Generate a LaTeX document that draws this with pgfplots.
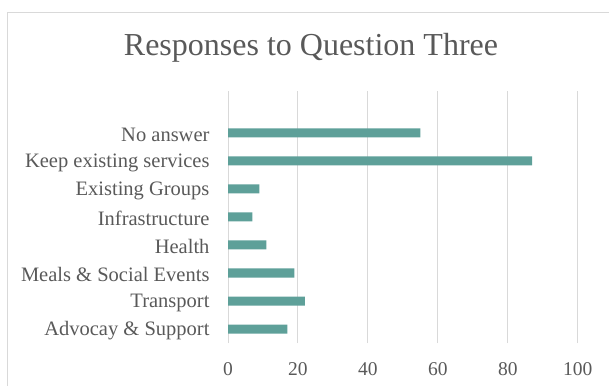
\documentclass[border=0pt]{standalone}
\usepackage{pgfplots}
\pgfplotsset{compat=1.18}
\usepackage{fontspec}
\setmainfont{Liberation Serif}
\definecolor{barc}{RGB}{94,160,153}
\definecolor{txt}{RGB}{89,89,89}
\definecolor{grd}{RGB}{217,217,217}
\begin{document}
\begin{tikzpicture}[x=1pt,y=1pt]
\path[use as bounding box] (0,0) rectangle (609,385);
\draw[grd, line width=1pt] (7.5,-5) -- (7.5,372) -- (620,372);
\node[txt, font=\fontsize{32}{36}\selectfont] at (311,337) {Responses to Question Three};
\begin{axis}[
  at={(228pt,42pt)}, anchor=south west,
  scale only axis, width=349.7pt, height=252pt,
  xbar, bar width=9pt,
  xmin=0, xmax=100, ymin=-0.5, ymax=8.5,
  xtick={0,20,...,100},
  ytick={0,...,7},
  yticklabels={Advocay \& Support, Transport, Meals \& Social Events, Health, Infrastructure, Existing Groups, Keep existing services\hspace{5pt}, No answer},
  axis line style={draw=none},
  major tick length=0pt,
  xmajorgrids, grid style={grd, line width=1pt},
  tick label style={text=txt},
  xticklabel style={font=\fontsize{19.5}{22}\selectfont, yshift=-16pt},
  yticklabel style={font=\fontsize{20.5}{22}\selectfont, xshift=-15pt, yshift=-1.5pt},
  /pgf/number format/assume math mode=true,
]
\addplot[fill=barc, draw=none] coordinates {(17,0) (22,1) (19,2) (11,3) (7,4) (9,5) (87,6) (55,7)};
\end{axis}
\end{tikzpicture}
\end{document}
